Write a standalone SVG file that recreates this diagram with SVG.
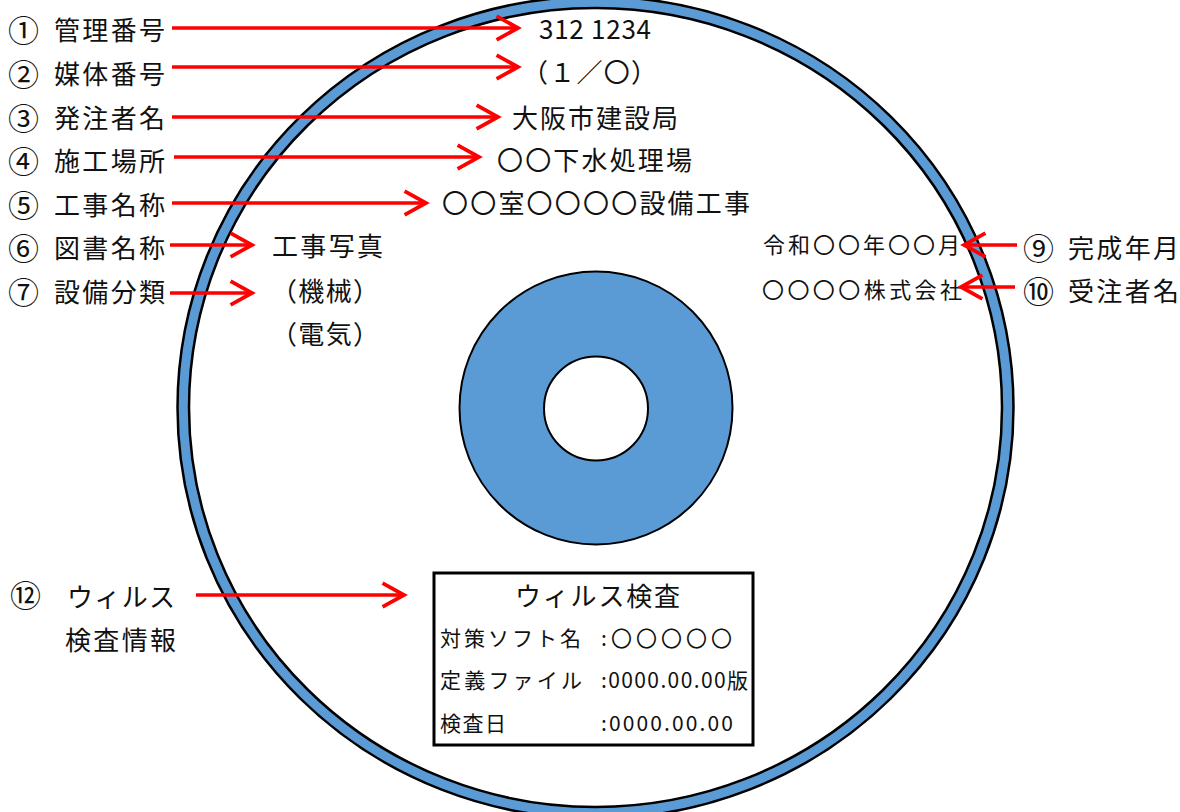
<svg xmlns="http://www.w3.org/2000/svg" width="1180" height="812" viewBox="0 0 1180 812">
<style>
text{font-family:"Noto Sans CJK JP","Noto Sans",sans-serif;fill:#111;dominant-baseline:central}
.lb{font-size:26px}
.cn{font-size:31px}
.ct{font-size:26px}
.sm{font-size:22px}
.bx{font-size:21px}
.arr{stroke:#ff0000;stroke-width:3.5;fill:none;marker-end:url(#ah)}
</style>
<defs>
<marker id="ah" markerUnits="userSpaceOnUse" markerWidth="30" markerHeight="30" viewBox="-24 -14 28 28" refX="0" refY="0" orient="auto" overflow="visible">
<path d="M-20,-11 L0,0 L-20,11" fill="none" stroke="#ff0000" stroke-width="3.5" stroke-linejoin="miter"/>
</marker>
</defs>
<rect width="1180" height="812" fill="#fff"/>
<g id="disc">
<ellipse cx="595.5" cy="407.5" rx="418" ry="411" fill="#5b9bd5" stroke="#000" stroke-width="2.5"/>
<ellipse cx="595.5" cy="407.5" rx="406.5" ry="399.5" fill="#fff" stroke="#000" stroke-width="2.5"/>
<circle cx="596" cy="408" r="136.5" fill="#5b9bd5" stroke="#000" stroke-width="2"/>
<circle cx="596" cy="408.5" r="52" fill="#fff" stroke="#000" stroke-width="2"/>
</g>
<g id="box">
<rect x="434" y="573" width="319" height="172" fill="#fff" stroke="#000" stroke-width="3"/>
<text class="ct" x="515" y="594" textLength="165">ウィルス検査</text>
<text class="bx" x="440" y="637" textLength="141">対策ソフト名</text>
<text class="bx" x="601" y="637" textLength="131">:〇〇〇〇〇</text>
<text class="bx" x="440" y="679" textLength="142">定義ファイル</text>
<text class="bx" x="601" y="679" textLength="147">:0000.00.00版</text>
<text class="bx" x="440" y="722" textLength="66">検査日</text>
<text class="bx" x="601" y="722" textLength="132">:0000.00.00</text>
</g>
<g id="labels">
<text class="cn" x="8" y="28">①</text><text class="lb" x="54" y="28" textLength="111">管理番号</text>
<text class="cn" x="8" y="72">②</text><text class="lb" x="54" y="72" textLength="111">媒体番号</text>
<text class="cn" x="8" y="116">③</text><text class="lb" x="54" y="116" textLength="111">発注者名</text>
<text class="cn" x="8" y="159">④</text><text class="lb" x="54" y="159" textLength="111">施工場所</text>
<text class="cn" x="8" y="203">⑤</text><text class="lb" x="54" y="203" textLength="111">工事名称</text>
<text class="cn" x="8" y="246">⑥</text><text class="lb" x="54" y="246" textLength="111">図書名称</text>
<text class="cn" x="8" y="290">⑦</text><text class="lb" x="54" y="290" textLength="111">設備分類</text>
<text class="cn" x="1023" y="246">⑨</text><text class="lb" x="1068" y="246" textLength="111">完成年月</text>
<text class="cn" x="1023" y="289">⑩</text><text class="lb" x="1068" y="289" textLength="111">受注者名</text>
<text class="cn" x="10" y="593">⑫</text>
<text class="lb" x="67" y="595" textLength="108">ウィルス</text>
<text class="lb" x="65" y="638" textLength="111">検査情報</text>
</g>
<g id="contents">
<text class="ct" x="539" y="27" textLength="112">312 1234</text>
<text class="ct" x="522" y="70" textLength="135">（１／〇）</text>
<text class="ct" x="512" y="116" textLength="166">大阪市建設局</text>
<text class="ct" x="497" y="158" textLength="195">〇〇下水処理場</text>
<text class="ct" x="442" y="201" textLength="308">〇〇室〇〇〇〇設備工事</text>
<text class="ct" x="272" y="244" textLength="111">工事写真</text>
<text class="ct" x="271" y="289" textLength="108">（機械）</text>
<text class="ct" x="271" y="332" textLength="108">（電気）</text>
<text class="sm" x="763" y="243" textLength="197">令和〇〇年〇〇月</text>
<text class="sm" x="762" y="288" textLength="200">〇〇〇〇株式会社</text>
</g>
<g id="connectors">
<line class="arr" x1="172" y1="28" x2="518" y2="28"/>
<line class="arr" x1="172" y1="67" x2="518" y2="67"/>
<line class="arr" x1="172" y1="117" x2="498" y2="117"/>
<line class="arr" x1="174" y1="157" x2="479" y2="157"/>
<line class="arr" x1="172" y1="203" x2="426" y2="203"/>
<line class="arr" x1="170" y1="245" x2="252" y2="245"/>
<line class="arr" x1="170" y1="293" x2="252" y2="293"/>
<line class="arr" x1="1017" y1="245" x2="964" y2="245"/>
<line class="arr" x1="1015" y1="287" x2="961" y2="287"/>
<line class="arr" x1="196" y1="595" x2="404" y2="595"/>
</g>
</svg>
